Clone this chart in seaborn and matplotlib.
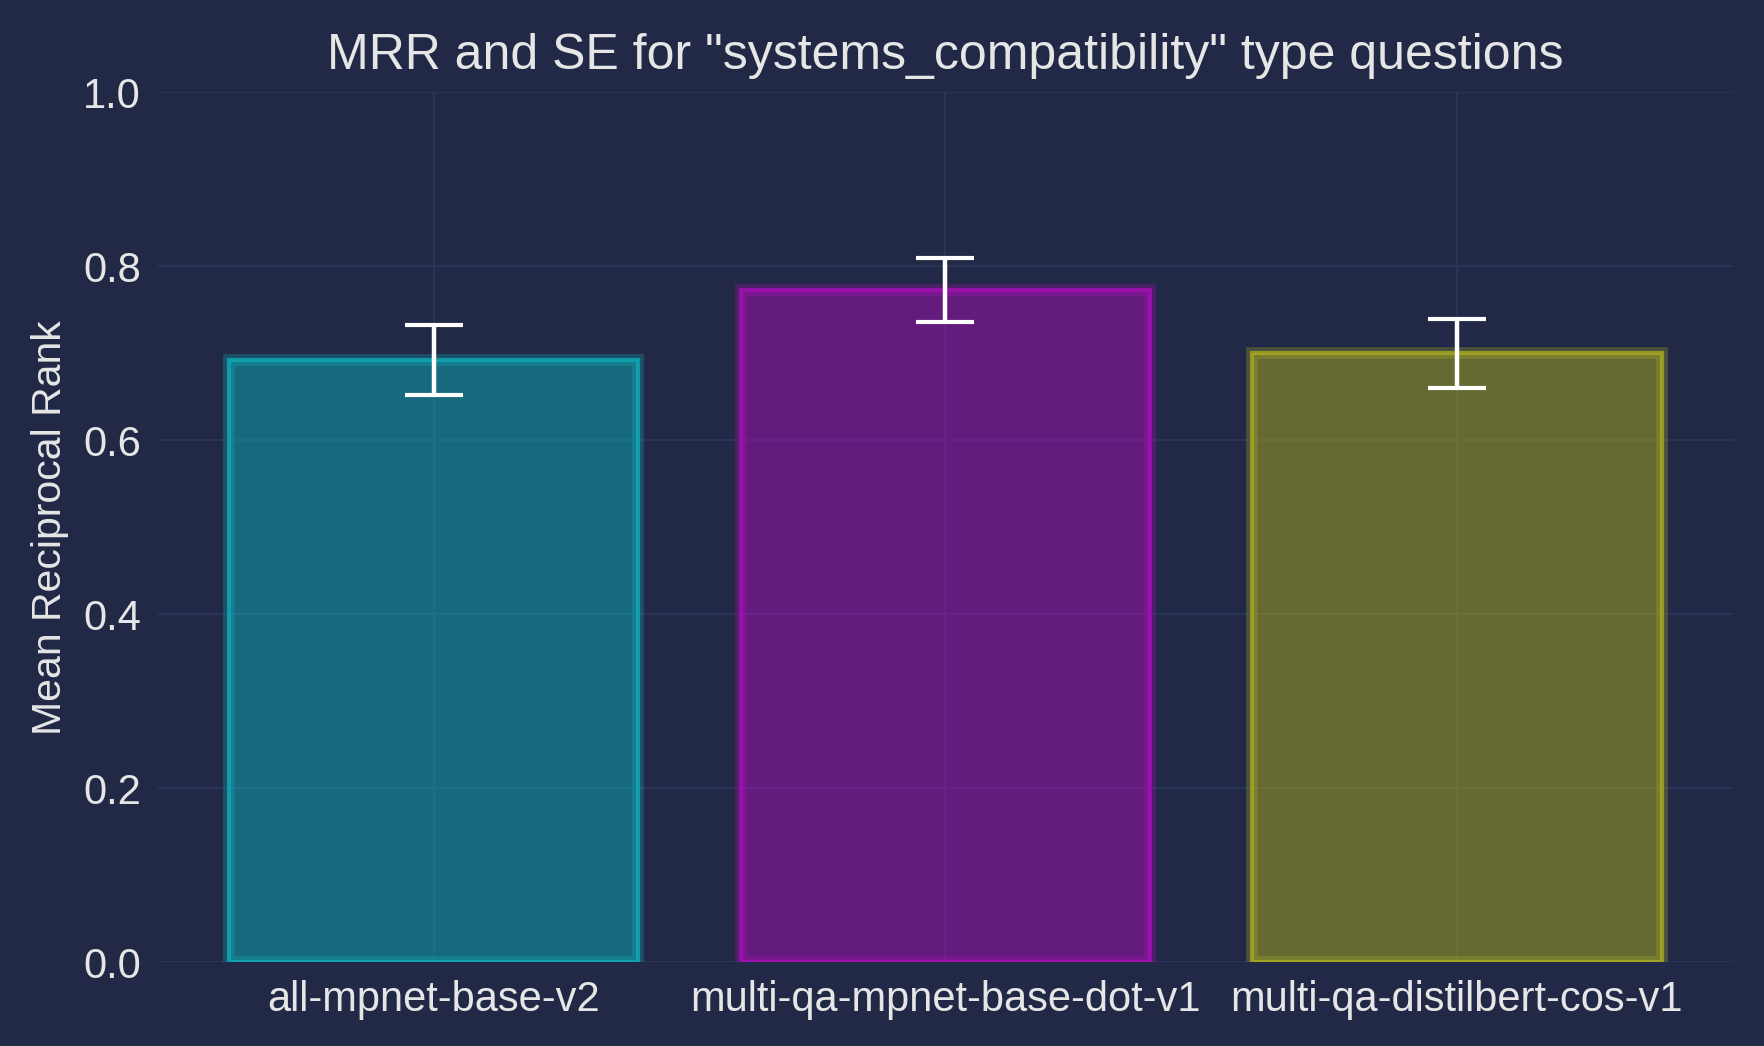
import matplotlib
matplotlib.use('Agg')
import matplotlib.pyplot as plt
import seaborn as sns
import pandas as pd

# --- values ---
models = ['all-mpnet-base-v2', 'multi-qa-mpnet-base-dot-v1', 'multi-qa-distilbert-cos-v1']
mrr = [0.692, 0.773, 0.700]
se = [0.040, 0.037, 0.040]
colors = ['#0FABB6', '#A70FB6', '#A9AB22']

df = pd.DataFrame({'model': models, 'mrr': mrr, 'se': se})

bg = '#212946'
grid_col = '#2A3459'
text_col = '#E6E6E6'

sns.set_theme(style='darkgrid')
plt.rcParams['font.family'] = ['Liberation Sans', 'DejaVu Sans']
plt.rcParams.update({
    'figure.facecolor': bg,
    'axes.facecolor': bg,
    'axes.edgecolor': bg,
    'grid.color': grid_col,
    'grid.linewidth': 1.5,
    'text.color': text_col,
    'axes.labelcolor': text_col,
    'xtick.color': text_col,
    'ytick.color': text_col,
})

fig = plt.figure(figsize=(17.65, 10.46), dpi=100)
ax = fig.add_axes([0.0893, 0.0799, 0.8927, 0.8319])

# glow layer (wide, faint edge)
sns.barplot(data=df, x='model', y='mrr', hue='model', palette=colors,
            width=0.8, legend=False, ax=ax)
for p, c in zip(ax.patches, colors):
    p.set_facecolor('none')
    p.set_edgecolor(c)
    p.set_alpha(0.3)
    p.set_linewidth(8.5)
n_glow = len(ax.patches)

# main bars
sns.barplot(data=df, x='model', y='mrr', hue='model', palette=colors,
            width=0.8, legend=False, ax=ax)
for p, c in zip(ax.patches[n_glow:], colors):
    p.set_facecolor(matplotlib.colors.to_rgba(c, 0.5))
    p.set_edgecolor(matplotlib.colors.to_rgba(c, 0.8))
    p.set_linewidth(3)

# standard error bars
ax.errorbar(x=range(len(models)), y=df['mrr'], yerr=df['se'], fmt='none',
            ecolor='white', elinewidth=3.2, capsize=21, capthick=3, zorder=5)

ax.set_ylim(0, 1.0)
ax.set_xlim(-0.54, 2.54)
ax.set_yticks([0.0, 0.2, 0.4, 0.6, 0.8, 1.0])
ax.set_yticklabels(['0.0', '0.2', '0.4', '0.6', '0.8', '1.0'])
ax.tick_params(axis='both', labelsize=30, length=0)
ax.tick_params(axis='y', pad=12)
ax.tick_params(axis='x', pad=13)
ax.set_xlabel('')
ax.set_ylabel('Mean Reciprocal Rank', fontsize=29.5, labelpad=10)
ax.set_title('MRR and SE for "systems_compatibility" type questions',
             fontsize=36, pad=17, color=text_col)
ax.grid(True, color=grid_col, linewidth=1.5)
ax.set_axisbelow(True)
for s in ax.spines.values():
    s.set_visible(False)

plt.savefig('out.png', dpi=100, facecolor=bg)
